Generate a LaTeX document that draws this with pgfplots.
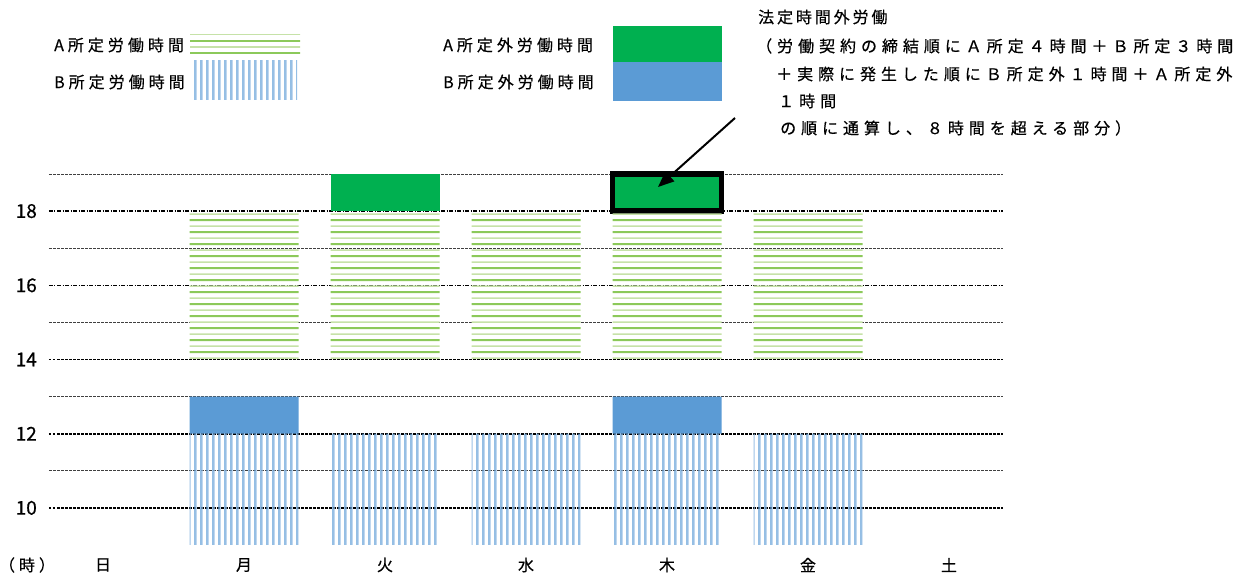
\documentclass[border=0pt]{standalone}
\usepackage{fontspec}
\setmainfont[UprightFeatures={FakeBold=0.5}]{Noto Sans CJK JP}
\newfontfamily\jp[LetterSpace=25,UprightFeatures={FakeBold=0.5}]{Noto Sans CJK JP}
\newfontfamily\jpa[LetterSpace=18,UprightFeatures={FakeBold=0.5}]{Noto Sans CJK JP}
\newfontfamily\jpb[LetterSpace=31,UprightFeatures={FakeBold=0.5}]{Noto Sans CJK JP}
\usepackage{pgfplots}
\pgfplotsset{compat=1.18}
\usetikzlibrary{patterns,arrows.meta}
\definecolor{gdark}{HTML}{8CC95A}
\definecolor{glight}{HTML}{C6E2A8}
\definecolor{bdark}{HTML}{5B9BD5}
\definecolor{blight}{HTML}{9CC2E6}
\definecolor{agreen}{HTML}{00B050}
\definecolor{bblue}{HTML}{5B9BD5}
\pgfdeclarepatterninherentlycolored{hstripes}{\pgfpointorigin}{\pgfpoint{1400pt}{12.4pt}}{\pgfpoint{1400pt}{12.4pt}}{%
 \pgfsetlinewidth{2pt}\pgfsetstrokecolor{gdark}%
 \pgfpathmoveto{\pgfpoint{0pt}{3pt}}\pgfpathlineto{\pgfpoint{1400pt}{3pt}}\pgfusepath{stroke}%
 \pgfsetlinewidth{1.5pt}\pgfsetstrokecolor{glight}%
 \pgfpathmoveto{\pgfpoint{0pt}{9.2pt}}\pgfpathlineto{\pgfpoint{1400pt}{9.2pt}}\pgfusepath{stroke}%
}
\pgfdeclarepatterninherentlycolored{vstripes}{\pgfpointorigin}{\pgfpoint{5.7pt}{650pt}}{\pgfpoint{5.7pt}{650pt}}{%
 \pgfsetlinewidth{1.4pt}\pgfsetstrokecolor{bdark}%
 \pgfpathmoveto{\pgfpoint{1pt}{0pt}}\pgfpathlineto{\pgfpoint{1pt}{650pt}}\pgfusepath{stroke}%
 \pgfsetlinewidth{1pt}\pgfsetstrokecolor{blight}%
 \pgfpathmoveto{\pgfpoint{2.2pt}{0pt}}\pgfpathlineto{\pgfpoint{2.2pt}{650pt}}\pgfusepath{stroke}%
}
\begin{document}
\begin{tikzpicture}
\useasboundingbox (-49pt,-32pt) rectangle (1210pt,545pt);
\begin{axis}[
  at={(0pt,0pt)}, anchor=south west,
  scale only axis, width=954pt, height=371pt,
  xmin=-0.383, xmax=6.383, ymin=9, ymax=19,
  ybar stacked, bar width=109pt, clip=false,
  axis line style={draw=none},
  major tick length=0pt, minor tick length=0pt,
  xtick={0,1,2,3,4,5,6},
  xticklabels={日,月,火,水,木,金,土},
  xticklabel style={anchor=center, yshift=-20pt, font={\fontsize{16}{18}\selectfont}},
  ytick={10,12,14},
  extra y ticks={16,18},
  extra y tick style={major grid style={black, line width=1.2pt, dash pattern=on 4pt off 1.5pt on 1pt off 1.5pt}},
  minor ytick={11,13,15,17,19},
  ymajorgrids, yminorgrids,
  major grid style={black, line width=1.8pt, dash pattern=on 2.5pt off 1.5pt},
  minor grid style={black!75, line width=0.8pt, dash pattern=on 3pt off 1pt},
  yticklabel style={anchor=east, inner sep=0pt, xshift=-12pt, font={\fontsize{19}{22}\selectfont}},
  /pgf/number format/assume math mode=true,
]
\addplot[draw=none, fill=none] coordinates {(1,9) (2,9) (3,9) (4,9) (5,9)};
\addplot[draw=none, pattern=vstripes] coordinates {(1,3) (2,3) (3,3) (4,3) (5,3)};
\addplot[draw=none, fill=bblue] coordinates {(1,1) (2,0) (3,0) (4,1) (5,0)};
\addplot[draw=none, fill=none] coordinates {(1,1) (2,2) (3,2) (4,1) (5,2)};
\addplot[draw=none, pattern=hstripes] coordinates {(1,4) (2,4) (3,4) (4,4) (5,4)};
\addplot[draw=none, fill=agreen] coordinates {(1,0) (2,1) (3,0) (4,0) (5,0)};
\addplot[draw=black, line width=5.5pt, fill=agreen] coordinates {(4,1)};
\end{axis}
% legend
\begin{scope}[every node/.style={anchor=west, inner sep=0pt, font={\fontsize{16}{18}\jp}}]
\node at (5pt,500pt) {A所定労働時間};
\node at (5pt,463pt) {B所定労働時間};
\node at (394pt,500pt) {A所定外労働時間};
\node at (394pt,463pt) {B所定外労働時間};
\node[font={\fontsize{16}{18}\jpa}] at (709pt,528pt) {法定時間外労働};
\node[font={\fontsize{16}{18}\jpb}] at (707pt,499pt) {（労働契約の締結順にＡ所定４時間＋Ｂ所定３時間};
\node[font={\fontsize{16}{18}\jpb}] at (727pt,471pt) {＋実際に発生した順にＢ所定外１時間＋Ａ所定外};
\node[font={\fontsize{16}{18}\jpb}] at (729pt,444pt) {１時間};
\node[font={\fontsize{16}{18}\jpb}] at (731pt,417pt) {の順に通算し、８時間を超える部分）};
\node[anchor=center] at (-22pt,-20pt) {（時）};
\end{scope}
\fill[pattern=hstripes] (141pt,489pt) rectangle (251pt,514pt);
\fill[pattern=vstripes] (144pt,445pt) rectangle (248pt,484pt);
\fill[agreen] (564pt,483pt) rectangle (673pt,519pt);
\fill[bblue] (564pt,444pt) rectangle (673pt,483pt);
\draw[line width=2pt, -{Triangle[length=16pt,width=13pt]}] (686pt,427pt) -- (609pt,358pt);
\end{tikzpicture}
\end{document}
